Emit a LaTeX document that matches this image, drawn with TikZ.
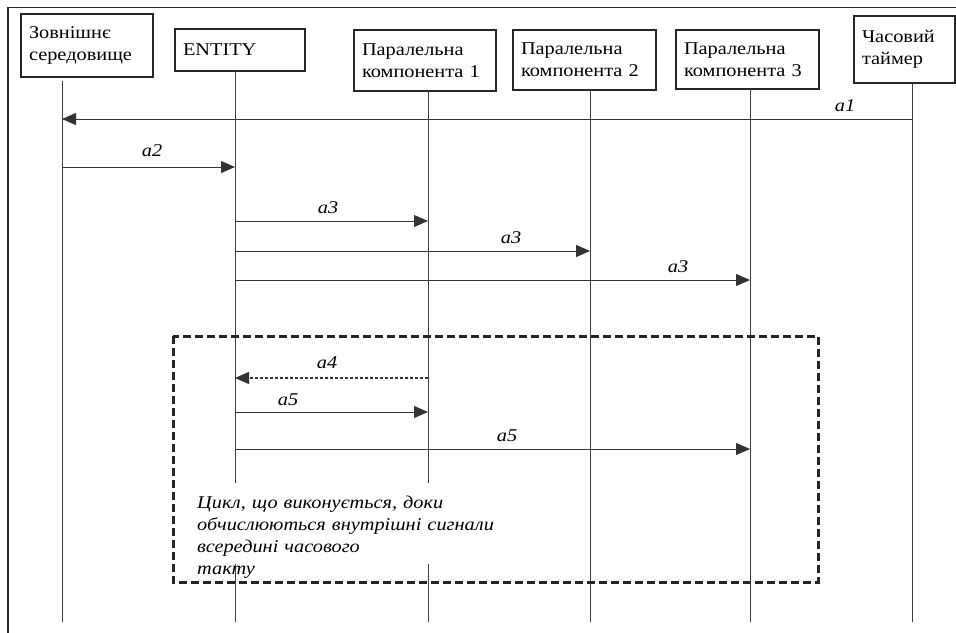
\documentclass[tikz,border=0pt]{standalone}
\usepackage{fontspec}
\setmainfont[FakeStretch=1.13]{Liberation Serif}
\usetikzlibrary{arrows.meta}
\begin{document}
\begin{tikzpicture}[x=1pt,y=-1pt,
  obj/.style={draw=black!85, line width=1.3pt, inner xsep=8pt, inner ysep=0pt, align=left,
    font=\fontsize{18}{22}\selectfont, anchor=center},
  life/.style={draw=black!75, line width=0.9pt},
  msg/.style={draw=black!80, line width=1pt, -{Triangle[length=14pt,width=12pt]}},
  lbl/.style={font=\fontsize{18}{20}\selectfont\itshape, inner sep=0pt},
  loopbox/.style={draw=black!85, line width=3pt, dash pattern=on 8pt off 4pt},
  note/.style={inner sep=0pt, anchor=north west, align=left,
    text width=392pt, font=\fontsize{18}{22}\selectfont\itshape}]
\useasboundingbox (0,0) rectangle (956,632);
\draw[black!85, line width=1.2pt] (8,640) -- (8,7.5) -- (965,7.5);

% objects
\node[obj, minimum width=132pt, minimum height=63pt, text width=116pt] (env) at (87,45.5) {Зовнішнє\\середовище};
\node[obj, minimum width=130pt, minimum height=42pt, text width=114pt] (ent) at (240,50) {ENTITY};
\node[obj, minimum width=142pt, minimum height=61pt, text width=126pt] (p1) at (425,60.5) {Паралельна\\компонента 1};
\node[obj, minimum width=143pt, minimum height=60pt, text width=127pt] (p2) at (584.5,60) {Паралельна\\компонента 2};
\node[obj, minimum width=143pt, minimum height=59pt, text width=127pt] (p3) at (747.5,59.5) {Паралельна\\компонента 3};
\node[obj, minimum width=101pt, minimum height=67pt, text width=85pt] (tim) at (904.5,49.5) {Часовий\\таймер};

% lifelines
\coordinate (l0) at (62,81);   \coordinate (b0) at (62,622);
\coordinate (l1) at (235,71);  \coordinate (b1) at (235,622);
\coordinate (l2) at (428,91);  \coordinate (b2) at (428,622);
\coordinate (l3) at (590,90);  \coordinate (b3) at (590,622);
\coordinate (l4) at (750,89);  \coordinate (b4) at (750,622);
\coordinate (l5) at (912,83);  \coordinate (b5) at (912,622);
\foreach \i in {0,...,5} \draw[life] (l\i) -- (b\i);

% messages
\draw[msg] (l5 |- 0,119) -- (l0 |- 0,119);
\node[lbl] (a1) at (845,106) {a1};
\draw[msg] (l0 |- 0,167) -- (l1 |- 0,167);
\node[lbl] (a2) at (152,151) {a2};
\draw[msg] (l1 |- 0,221) -- (l2 |- 0,221);
\node[lbl] (a3a) at (328,208) {a3};
\draw[msg] (l1 |- 0,251) -- (l3 |- 0,251);
\node[lbl] (a3b) at (511,238) {a3};
\draw[msg] (l1 |- 0,280) -- (l4 |- 0,280);
\node[lbl] (a3c) at (678,267) {a3};

% loop
\draw[loopbox] (173,336) rectangle (818,582);
\draw[msg, line width=1.3pt, dash pattern=on 3pt off 2pt] (l2 |- 0,378) -- (l1 |- 0,378);
\node[lbl] (a4) at (327,363) {a4};
\draw[msg] (l1 |- 0,412) -- (l2 |- 0,412);
\node[lbl] (a5a) at (288,400) {a5};
\draw[msg] (l1 |- 0,449) -- (l4 |- 0,449);
\node[lbl] (a5b) at (507,436) {a5};

\fill[white] (196,483) rectangle (588,564);
\node[note] (txt) at (197,496) {Цикл, що виконується, доки\\обчислюються внутрішні сигнали\\всередині часового\\такту};
\end{tikzpicture}
\end{document}
